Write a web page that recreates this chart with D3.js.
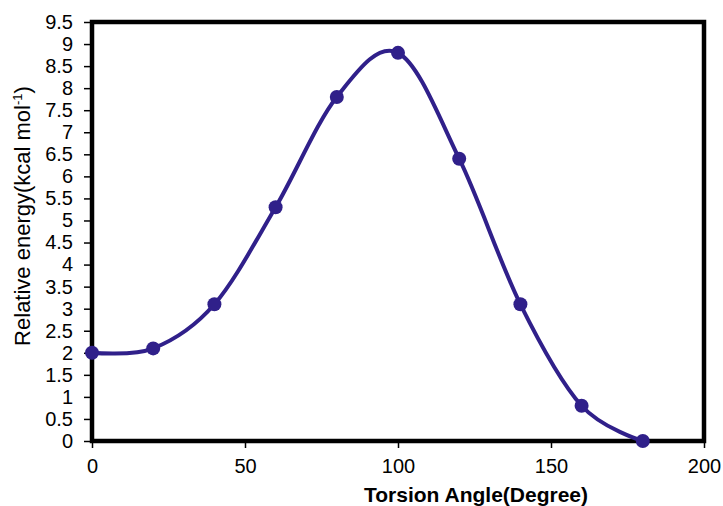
<!DOCTYPE html>
<html>
<head>
<meta charset="utf-8">
<script src="https://cdn.jsdelivr.net/npm/d3@7"></script>
<style>
  body { margin: 0; background: #fff; }
  svg { display: block; font-family: Arial, "Liberation Sans", sans-serif; }
</style>
</head>
<body>
<script>
// data
const angles = [0, 20, 40, 60, 80, 100, 120, 140, 160, 180];
const energies = [2.0, 2.1, 3.1, 5.3, 7.8, 8.8, 6.4, 3.1, 0.8, 0.0];
const xTicks = [0, 50, 100, 150, 200];
const yTicks = [0, 0.5, 1, 1.5, 2, 2.5, 3, 3.5, 4, 4.5, 5, 5.5, 6, 6.5, 7, 7.5, 8, 8.5, 9, 9.5];

const width = 723, height = 506;
const margin = {top: 22, right: 19, bottom: 65, left: 92};
const lineColor = "#30208a";
const tickFontSize = 20;

const svg = d3.select("body")
  .append("svg")
  .attr("width", width)
  .attr("height", height);

const x = d3.scaleLinear()
  .domain([0, 200])
  .range([margin.left, width - margin.right]);

const y = d3.scaleLinear()
  .domain([0, 9.5])
  .range([height - margin.bottom, margin.top]);

// axes
const xAxis = svg.append("g")
  .attr("transform", `translate(0,${height - margin.bottom})`)
  .call(d3.axisBottom(x).tickValues(xTicks).tickSize(7).tickPadding(11).tickFormat(d3.format("d")));
xAxis.select(".domain").remove();
xAxis.selectAll("line").attr("stroke", "#000").attr("stroke-width", 1.5);
xAxis.selectAll("text").attr("font-size", tickFontSize).attr("fill", "#000");

const yAxis = svg.append("g")
  .attr("transform", `translate(${margin.left},0)`)
  .call(d3.axisLeft(y).tickValues(yTicks).tickSize(8).tickPadding(11).tickFormat(d => String(d)));
yAxis.select(".domain").remove();
yAxis.selectAll("line").attr("stroke", "#000").attr("stroke-width", 1.5);
yAxis.selectAll("text").attr("font-size", tickFontSize).attr("fill", "#000");

// plot frame
svg.append("rect")
  .attr("x", margin.left)
  .attr("y", margin.top)
  .attr("width", width - margin.left - margin.right)
  .attr("height", height - margin.top - margin.bottom)
  .attr("fill", "none")
  .attr("stroke", "#000")
  .attr("stroke-width", 4.5);

// axis titles
svg.append("text")
  .attr("x", 476)
  .attr("y", 502)
  .attr("text-anchor", "middle")
  .attr("font-size", 21)
  .attr("font-weight", "bold")
  .text("Torsion Angle(Degree)");

const yTitle = svg.append("text")
  .attr("transform", "rotate(-90)")
  .attr("x", -216)
  .attr("y", 30)
  .attr("text-anchor", "middle")
  .attr("font-size", 22);
yTitle.append("tspan").text("Relative energy(kcal mol");
yTitle.append("tspan").attr("font-size", 13).attr("dy", -8).text("-1");
yTitle.append("tspan").attr("dy", 8).text(")");

// smoothed line + markers
const points = angles.map((a, i) => ({a, e: energies[i]}));

const line = d3.line()
  .x(d => x(d.a))
  .y(d => y(d.e))
  .curve(d3.curveCardinal.tension(0));

svg.append("path")
  .datum(points)
  .attr("fill", "none")
  .attr("stroke", lineColor)
  .attr("stroke-width", 4)
  .attr("d", line);

svg.append("g")
  .selectAll("circle")
  .data(points)
  .join("circle")
  .attr("cx", d => x(d.a))
  .attr("cy", d => y(d.e))
  .attr("r", 7)
  .attr("fill", lineColor);
</script>
</body>
</html>
